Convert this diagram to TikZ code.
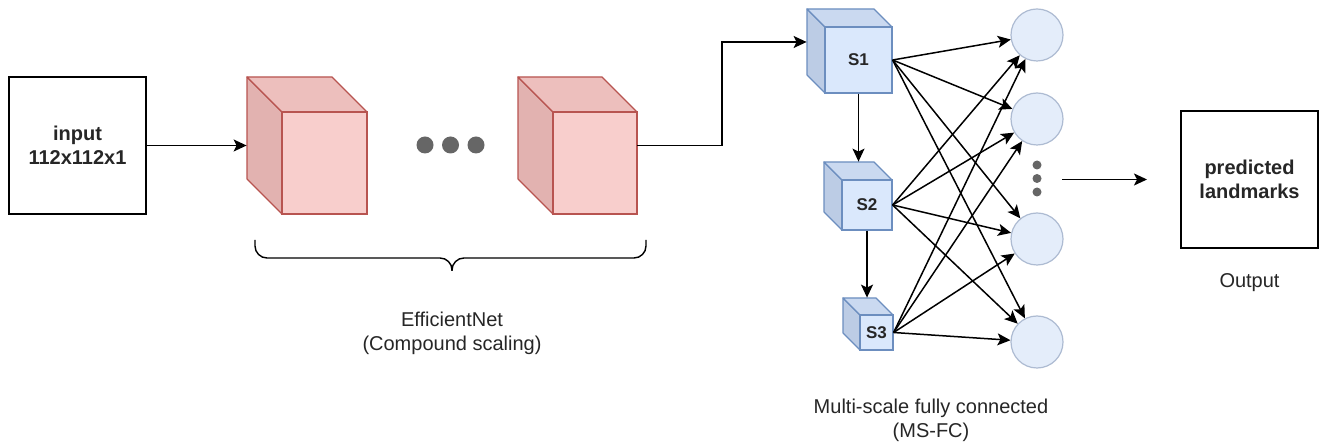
\documentclass[tikz,border=0pt]{standalone}
\usepackage{fontspec}
\setmainfont{Liberation Sans}
\usetikzlibrary{arrows.meta,calc}
\definecolor{redfront}{HTML}{F8CECC}
\definecolor{redtop}{HTML}{EDBFBD}
\definecolor{redside}{HTML}{E2B2B0}
\definecolor{redline}{HTML}{B85450}
\definecolor{bluefront}{HTML}{DAE8FC}
\definecolor{bluetop}{HTML}{CAD9F0}
\definecolor{blueside}{HTML}{BCCCE5}
\definecolor{blueline}{HTML}{6C8EBF}
\definecolor{circfill}{HTML}{E4EDFA}
\definecolor{circline}{HTML}{ADBBD2}
\definecolor{dotgrey}{HTML}{666666}
\definecolor{txtgrey}{HTML}{262626}
\newcommand{\drawcube}[8]{%
  \filldraw[fill=#7side,draw=#7line,line width=0.6pt,line join=round] (#2,#3) -- (#2-#6,#3-#6) -- (#2-#6,#5-#6) -- (#2,#5) -- cycle;
  \filldraw[fill=#7top,draw=#7line,line width=0.6pt,line join=round] (#2,#3) -- (#2-#6,#3-#6) -- (#4-#6,#3-#6) -- (#4,#3) -- cycle;
  \node[draw=#7line,fill=#7front,line width=0.6pt,inner sep=0,minimum width={(#4-#2)*0.5pt},minimum height={(#5-#3)*0.5pt},cubelabel] (#1) at ({(#2+#4)/2},{(#3+#5)/2}) {#8};
  \node[inner sep=0,minimum width={(#4-#2)*0.5pt},minimum height={(#5-#3)*0.5pt}] (#1-back) at ({(#2+#4)/2-#6},{(#3+#5)/2-#6}) {};
  \node[inner sep=0,minimum width={(#4-#2+#6)*0.5pt},minimum height={(#5-#3+#6)*0.5pt}] (#1-all) at ({(#2+#4-#6)/2},{(#3+#5-#6)/2}) {};
}
\begin{document}
\begin{tikzpicture}[x=0.5pt,y=-0.5pt,
  box/.style={draw=black,line width=0.9pt,fill=white,minimum width=68.5pt,minimum height=68.5pt,inner sep=0,align=center,font=\fontsize{10}{12}\selectfont\bfseries,text=txtgrey},
  cubelabel/.style={font=\fontsize{8.5}{10}\selectfont\bfseries,text=txtgrey},
  neuron/.style={circle,draw=circline,fill=circfill,line width=0.6pt,minimum size=26pt,inner sep=0},
  link/.style={-{Stealth[length=6.5pt,width=6pt,inset=1.5pt]},line width=0.75pt,black},
  caption/.style={align=center,font=\fontsize{10}{12}\selectfont,text=txtgrey},
  dot/.style={circle,fill=dotgrey,inner sep=0}
]
\useasboundingbox (0,0) rectangle (1320,442);
\fill[white] (0,0) rectangle (1320,442);

% input
\node[box] (input) at (77.5,145.5) {input\\112x112x1};

% EfficientNet cubes
\drawcube{c1}{282}{112}{367}{214}{35}{red}{}
\drawcube{c2}{553}{112}{637}{214}{35}{red}{}
\node[dot,minimum size=8.5pt] (d1) at (425,145) {};
\node[dot,minimum size=8.5pt] (d2) at (450.5,145) {};
\node[dot,minimum size=8.5pt] (d3) at (476,145) {};

\draw[link] (input.east) -- (c1-all.west);

% brace
\draw[line width=0.7pt,black,rounded corners=6pt] (255,240) -- (255,258) -- (452,258) -- (452,271);
\draw[line width=0.7pt,black,rounded corners=6pt] (646,240) -- (646,258) -- (452,258) -- (452,271);
\node[caption] (effcap) at (452,333) {EfficientNet\\(Compound scaling)};

% MS-FC cubes
\drawcube{s1}{825}{27}{892}{93}{18}{blue}{S1}
\drawcube{s2}{842}{180}{892}{230}{18}{blue}{S2}
\drawcube{s3}{860}{315}{893}{350}{17}{blue}{S3}

\draw[link] (c2-all.east) -- (722,145.5) |- (s1-back.west);
\draw[link] (s1.south) -- (s1.south |- s2-all.north);
\draw[link] (s2.south) -- (s2.south |- s3-all.north);

% neurons
\node[neuron] (n1) at (1037,35) {};
\node[neuron] (n2) at (1037,119) {};
\node[neuron] (n3) at (1037,239) {};
\node[neuron] (n4) at (1037,342) {};
\node[dot,minimum size=4.5pt] (v1) at (1037,165) {};
\node[dot,minimum size=4.5pt] (v2) at (1037,178.5) {};
\node[dot,minimum size=4.5pt] (v3) at (1037,192) {};

\foreach \s in {s1,s2,s3}{
  \foreach \n in {n1,n2,n3,n4}{
    \draw[link] (\s.east) -- (\n);
  }
}

\node[caption] (mscap) at (931,420) {Multi-scale fully connected\\(MS-FC)};

% output
\coordinate (ostart) at (1062,179.5);
\coordinate (oend) at (1147,179.5);
\draw[link] (ostart) -- (oend);
\node[box] (output) at (1249.5,179.5) {predicted\\landmarks};
\node[caption] (outcap) at (1249.5,283) {Output};
\end{tikzpicture}
\end{document}
